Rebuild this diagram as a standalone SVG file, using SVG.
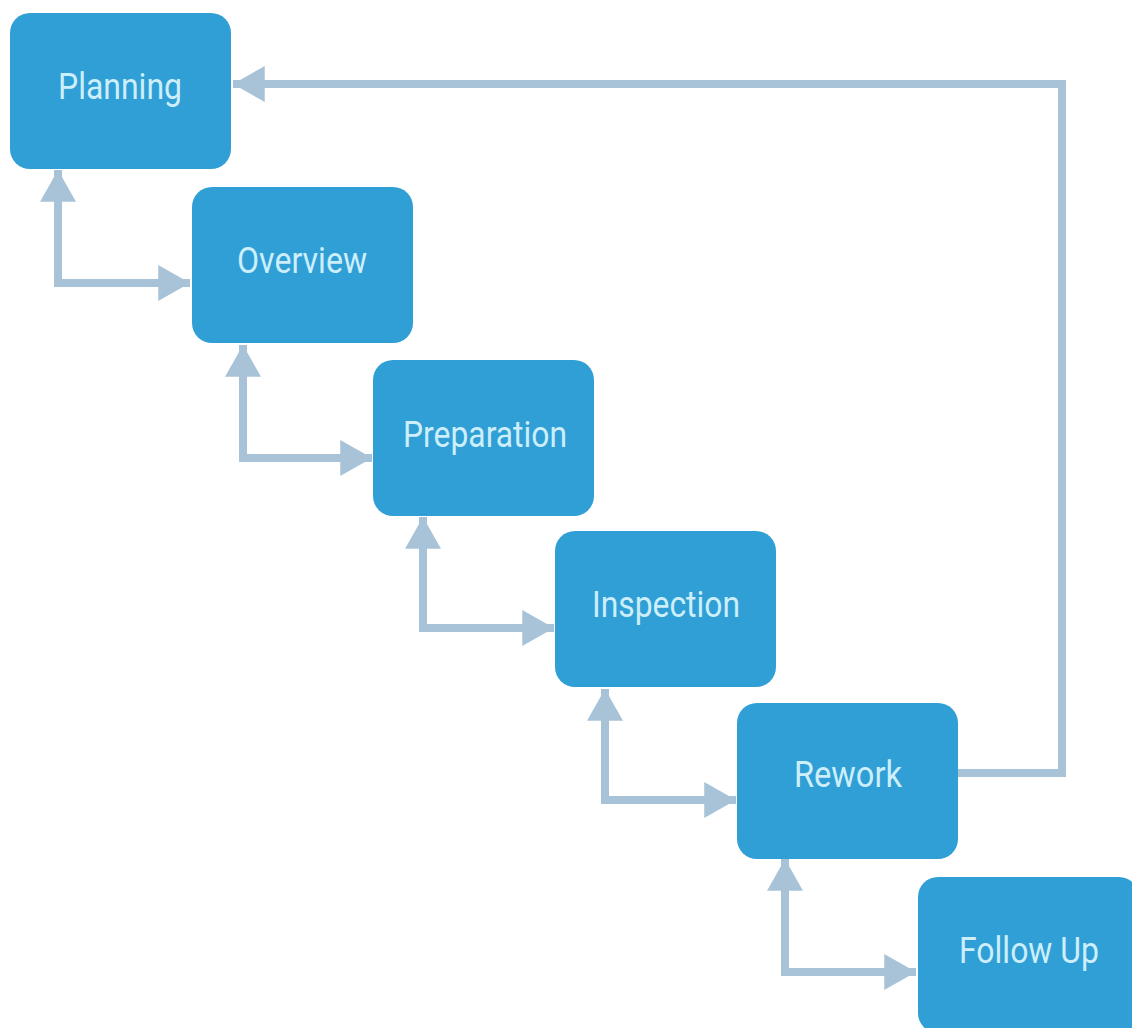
<svg xmlns="http://www.w3.org/2000/svg" width="1132" height="1028" viewBox="0 0 1132 1028">
<style>
.box{fill:#309fd6}
.lbl{font-family:Roboto,"Liberation Sans",sans-serif;font-size:36px;fill:#cdeefb;text-anchor:middle}
.con{fill:none;stroke:#a8c3d8;stroke-width:8}
</style>
<defs>
<marker id="ah" markerUnits="userSpaceOnUse" markerWidth="32" markerHeight="36" viewBox="0 0 30 34" refX="30" refY="17" orient="auto-start-reverse">
<path d="M0,0 L30,17 L0,34 Z" fill="#a8c3d8"/>
</marker>
</defs>
<rect width="1132" height="1028" fill="#ffffff"/>
<g id="connectors">
<path class="con" d="M58,170 V283 H190" marker-start="url(#ah)" marker-end="url(#ah)"/>
<path class="con" d="M243,345 V458 H372" marker-start="url(#ah)" marker-end="url(#ah)"/>
<path class="con" d="M423,517 V628 H554" marker-start="url(#ah)" marker-end="url(#ah)"/>
<path class="con" d="M605,689 V800 H736" marker-start="url(#ah)" marker-end="url(#ah)"/>
<path class="con" d="M785,859 V972 H916" marker-start="url(#ah)" marker-end="url(#ah)"/>
<path class="con" d="M958,773 H1062 V84 H233" marker-end="url(#ah)"/>
</g>
<g id="planning"><rect class="box" x="10" y="13" width="221" height="156" rx="20"/><text class="lbl" x="120" y="99" textLength="124" lengthAdjust="spacingAndGlyphs">Planning</text></g>
<g id="overview"><rect class="box" x="192" y="187" width="221" height="156" rx="20"/><text class="lbl" x="302" y="273" textLength="130" lengthAdjust="spacingAndGlyphs">Overview</text></g>
<g id="preparation"><rect class="box" x="373" y="360" width="221" height="156" rx="20"/><text class="lbl" x="485" y="447" textLength="164" lengthAdjust="spacingAndGlyphs">Preparation</text></g>
<g id="inspection"><rect class="box" x="555" y="531" width="221" height="156" rx="20"/><text class="lbl" x="666" y="617" textLength="148" lengthAdjust="spacingAndGlyphs">Inspection</text></g>
<g id="rework"><rect class="box" x="737" y="703" width="221" height="156" rx="20"/><text class="lbl" x="848" y="787" textLength="108" lengthAdjust="spacingAndGlyphs">Rework</text></g>
<g id="followup"><rect class="box" x="918" y="877" width="221" height="156" rx="20"/><text class="lbl" x="1029" y="963" textLength="140" lengthAdjust="spacingAndGlyphs">Follow Up</text></g>
</svg>
